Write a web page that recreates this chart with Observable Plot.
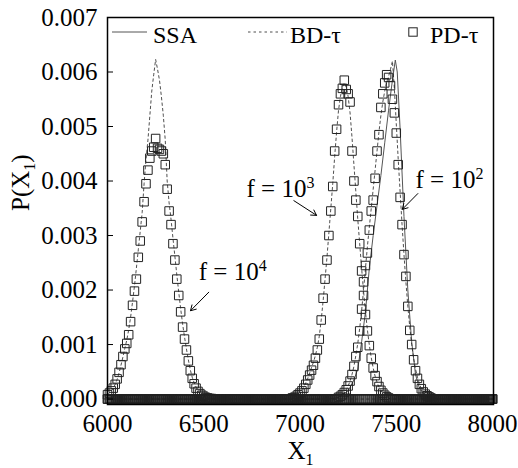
<!DOCTYPE html>
<html><head><meta charset="utf-8">
<script src="https://cdn.jsdelivr.net/npm/d3@7"></script>
<script src="https://cdn.jsdelivr.net/npm/@observablehq/plot@0.6"></script>
<style>body{margin:0;background:#fff} #chart{position:relative;width:518px;height:468px}</style>
</head><body><div id="chart"></div>
<script>
// ---------- data (probabilities in units of 1e-3) ----------
const xTicks = [6000, 6500, 7000, 7500, 8000];
const yTicks = [0, 0.001, 0.002, 0.003, 0.004, 0.005, 0.006, 0.007];

// sampling grid of X1 (squares every 10 molecules)
const xGrid = d3.range(6000, 8001, 10);

// f = 10^4
const peak4X = [6000,6010,6020,6030,6040,6050,6060,6070,6080,6090,6100,6110,6120,6130,6140,6150,6160,6170,6180,6190,6200,6210,6220,6230,6240,6250,6260,6270,6280,6290,6300,6310,6320,6330,6340,6350,6360,6370,6380,6390,6400,6410,6420,6430,6440,6450,6460,6470,6480,6490,6500,6510,6520,6530,6540];
const pd4 = [0.08,0.11,0.15,0.20,0.27,0.37,0.49,0.63,0.78,0.92,1.02,1.18,1.42,1.72,1.98,2.20,2.60,2.90,3.25,3.62,3.95,4.20,4.42,4.55,4.62,4.78,4.60,4.58,4.55,4.50,4.30,3.85,3.45,3.20,2.85,2.55,2.20,1.90,1.60,1.32,1.10,0.90,0.70,0.52,0.38,0.28,0.20,0.14,0.10,0.07,0.05,0.03,0.02,0.01,0.01];
const bd4 = [0.08,0.11,0.15,0.20,0.27,0.36,0.48,0.62,0.77,0.93,1.08,1.27,1.50,1.78,2.07,2.40,2.74,3.08,3.42,3.95,4.40,4.75,5.20,5.65,5.95,6.23,6.05,5.85,5.55,5.20,4.75,4.00,3.60,3.30,2.95,2.62,2.28,1.96,1.66,1.38,1.14,0.92,0.72,0.54,0.40,0.30,0.22,0.16,0.11,0.08,0.06,0.04,0.03,0.02,0.01];

// f = 10^3
const peak3X = [6960,6970,6980,6990,7000,7010,7020,7030,7040,7050,7060,7070,7080,7090,7100,7110,7120,7130,7140,7150,7160,7170,7180,7190,7200,7210,7220,7230,7240,7250,7260,7270,7280,7290,7300,7310,7320,7330,7340,7350,7360,7370,7380,7390,7400,7410,7420,7430,7440,7450,7460];
const pd3 = [0.02,0.03,0.05,0.08,0.11,0.15,0.20,0.27,0.35,0.44,0.53,0.62,0.75,0.90,1.10,1.45,1.85,2.20,2.55,3.00,3.45,3.90,4.55,4.95,5.40,5.60,5.70,5.85,5.68,5.60,5.45,4.55,4.00,3.65,3.35,2.85,2.35,1.90,1.55,1.25,0.98,0.75,0.57,0.43,0.32,0.23,0.16,0.11,0.07,0.04,0.02];
const bd3 = [0.03,0.04,0.06,0.09,0.12,0.17,0.23,0.30,0.38,0.48,0.58,0.68,0.80,0.95,1.15,1.45,1.80,2.20,2.60,3.05,3.50,3.95,4.45,4.90,5.30,5.55,5.72,5.80,5.72,5.55,5.25,4.80,4.30,3.80,3.30,2.85,2.40,1.98,1.60,1.27,0.99,0.76,0.57,0.42,0.31,0.22,0.15,0.10,0.07,0.04,0.02];

// f = 10^2
const peak2X = [7200,7210,7220,7230,7240,7250,7260,7270,7280,7290,7300,7310,7320,7330,7340,7350,7360,7370,7380,7390,7400,7410,7420,7430,7440,7450,7460,7470,7480,7490,7500,7510,7520,7530,7540,7550,7560,7570,7580,7590,7600,7610,7620,7630,7640,7650,7660,7670,7680];
const pd2 = [0.03,0.05,0.08,0.12,0.17,0.24,0.33,0.45,0.60,0.78,0.95,1.25,1.65,2.15,2.45,2.68,3.10,3.45,3.65,4.05,4.55,4.85,5.35,5.60,5.80,5.95,5.90,5.75,5.50,5.25,4.88,4.30,3.70,3.20,2.65,2.25,1.70,1.26,1.00,0.72,0.52,0.38,0.27,0.19,0.13,0.09,0.06,0.04,0.02];
const bd2 = [0.03,0.05,0.08,0.12,0.17,0.24,0.33,0.45,0.60,0.80,1.02,1.30,1.62,2.00,2.40,2.80,3.15,3.50,3.85,4.20,4.55,4.90,5.20,5.45,5.65,5.80,5.92,6.05,6.20,5.70,5.05,4.40,3.80,3.20,2.65,2.15,1.70,1.32,1.00,0.75,0.55,0.40,0.28,0.19,0.13,0.09,0.06,0.04,0.02];

// SSA (solid)
const ssaX = [6000,7150,7200,7250,7280,7300,7320,7340,7360,7380,7400,7420,7440,7460,7480,7495,7505,7520,7540,7560,7580,7600,7620,7650,7700,7750,8000];
const ssaP = [0,0,0.03,0.15,0.35,0.55,1.05,1.60,2.40,3.00,3.55,4.10,4.70,5.30,5.85,6.22,6.00,4.95,3.35,2.00,1.05,0.45,0.20,0.06,0.01,0,0];

// annotations
const annLabels = ["f = 10^{4}", "f = 10^{3}", "f = 10^{2}"];
const annTextX = [6474, 6722, 7600];
const annTextY = [0.00234, 0.00386, 0.00401];
const annFromX = [6526, 6968, 7612];
const annFromY = [0.00196, 0.00364, 0.00377];
const annToX = [6431, 7086, 7531];
const annToY = [0.00162, 0.00337, 0.00348];

// ---------- build tables ----------
function fullSeries(px, vals, f) {
  return xGrid.map(x => {
    const i = px.indexOf(x);
    return {x, p: i >= 0 ? vals[i] * 1e-3 : 0, f};
  });
}
const pdData = [...fullSeries(peak4X, pd4, "1e4"), ...fullSeries(peak3X, pd3, "1e3"), ...fullSeries(peak2X, pd2, "1e2")];
const bdData = [...fullSeries(peak4X, bd4, "1e4"), ...fullSeries(peak3X, bd3, "1e3"), ...fullSeries(peak2X, bd2, "1e2")];
const ssaData = ssaX.map((x, i) => ({x, p: ssaP[i] * 1e-3}));
const ann = annLabels.map((label, i) => ({label, tx: annTextX[i], ty: annTextY[i], x1: annFromX[i], y1: annFromY[i], x2: annToX[i], y2: annToY[i]}));

const W = 518, H = 468, mL = 107, mR = 25, mT = 17, mB = 64;
const serif = "'Liberation Serif', 'Times New Roman', 'DejaVu Serif', serif";

const chart = Plot.plot({
  width: W, height: H,
  marginTop: mT, marginRight: mR, marginBottom: mB, marginLeft: mL,
  style: {fontFamily: serif, fontSize: "25px", background: "white", color: "black"},
  x: {domain: [6000, 8005]},
  y: {domain: [-0.0001, 0.007]},
  marks: [
    Plot.line(ssaData, {x: "x", y: "p", stroke: "#555", strokeWidth: 1}),
    Plot.line(bdData, {x: "x", y: "p", z: "f", stroke: "#222", strokeWidth: 0.8, strokeDasharray: "2.5,3"}),
    Plot.dot(pdData, {x: "x", y: "p", symbol: "square", r: 4.8, stroke: "#222", fill: "none", strokeWidth: 1}),
    Plot.axisX({ticks: xTicks, tickSize: 0, tickPadding: 10, tickFormat: d3.format("d"), label: null}),
    Plot.axisY({ticks: yTicks, tickSize: 0, tickPadding: 10, tickFormat: d3.format(".3f"), label: null}),
    Plot.tickY(yTicks, {stroke: "black", strokeWidth: 1, insetRight: (W - mL - mR) - 6}),
    Plot.frame({stroke: "black", strokeWidth: 1.5}),
    Plot.arrow(ann, {x1: "x1", y1: "y1", x2: "x2", y2: "y2", stroke: "black", strokeWidth: 1, headLength: 9}),
    Plot.text(ann, {x: "tx", y: "ty", text: "label", textAnchor: "start", fontSize: 25, fill: "black"}),
    Plot.text(["X_{1}"], {frameAnchor: "bottom", dy: 54, fontSize: 25, fill: "black"}),
    Plot.text(["P(X_{1})"], {frameAnchor: "left", dx: -87, rotate: -90, fontSize: 25, fill: "black"})
  ]
});

// super/subscripts in text
const NS = "http://www.w3.org/2000/svg";
chart.querySelectorAll("text").forEach(el => {
  const s = el.textContent;
  if (!/[_^]\{/.test(s)) return;
  while (el.firstChild) el.removeChild(el.firstChild);
  const re = /([_^])\{([^}]*)\}/g;
  const parts = [];
  let last = 0, m;
  while ((m = re.exec(s))) {
    if (m.index > last) parts.push({t: s.slice(last, m.index), k: 0});
    parts.push({t: m[2], k: m[1] === "^" ? 1 : -1});
    last = re.lastIndex;
  }
  if (last < s.length) parts.push({t: s.slice(last), k: 0});
  let cur = 0;
  for (const p of parts) {
    const target = p.k === 1 ? -9 : p.k === -1 ? 6 : 0;
    const t = document.createElementNS(NS, "tspan");
    if (target !== cur) t.setAttribute("dy", target - cur);
    if (p.k) t.setAttribute("font-size", 16);
    t.textContent = p.t;
    el.appendChild(t);
    cur = target;
  }
});

// legend inside the frame
const legendItems = [
  {label: "SSA", kind: "solid", x0: 112, x1: 147, tx: 153},
  {label: "BD-τ", kind: "dashed", x0: 248, x1: 287, tx: 290},
  {label: "PD-τ", kind: "square", x0: 413, x1: 413, tx: 430}
];
const lg = d3.select(chart).append("g").attr("font-family", serif).attr("font-size", 24)
  .attr("fill", "black").attr("text-anchor", "start");
legendItems.forEach(d => {
  if (d.kind === "square") {
    lg.append("rect").attr("x", d.x0 - 4.2).attr("y", 32 - 4.2).attr("width", 8.4).attr("height", 8.4)
      .attr("fill", "none").attr("stroke", "#222").attr("stroke-width", 1);
  } else {
    lg.append("line").attr("x1", d.x0).attr("x2", d.x1).attr("y1", 32).attr("y2", 32)
      .attr("stroke", d.kind === "solid" ? "#555" : "#222").attr("stroke-width", d.kind === "solid" ? 1 : 0.8)
      .attr("stroke-dasharray", d.kind === "dashed" ? "2.5,3" : null);
  }
  lg.append("text").attr("x", d.tx).attr("y", 43).text(d.label);
});

document.getElementById("chart").appendChild(chart);
</script></body></html>
